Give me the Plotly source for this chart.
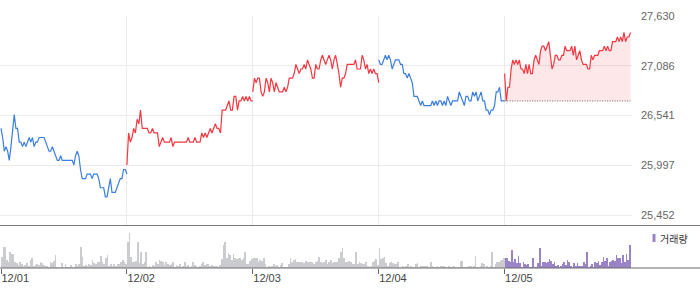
import plotly.graph_objects as go

# ---------------- data ----------------
day_labels = ["12/01", "12/02", "12/03", "12/04", "12/05"]

price_d1 = [26400, 26300, 26150, 26200, 26150, 26050, 26200, 26350, 26550, 26400, 26400, 26250, 26250, 26200,
            26250, 26200, 26250, 26300, 26250, 26300, 26200, 26250, 26250, 26300, 26300, 26300, 26300, 26250,
            26200, 26150, 26150, 26200, 26150, 26100, 26050, 26050, 26100, 26050, 26050, 26050, 26050, 26050,
            26050, 26050, 26000, 26100, 26150, 26100, 25950, 25850, 25850, 25850, 25900, 25900, 25900, 25850,
            25900, 25900, 25900, 25850, 25750, 25750, 25750, 25650, 25650, 25750, 25850, 25700, 25700, 25700,
            25750, 25800, 25850, 25850, 25950, 25950, 25900]
price_d2 = [26000, 26350, 26250, 26300, 26400, 26350, 26500, 26450, 26600, 26400, 26400, 26400, 26400, 26350,
            26350, 26400, 26350, 26350, 26350, 26200, 26250, 26300, 26250, 26250, 26250, 26250, 26300, 26200,
            26250, 26250, 26250, 26250, 26250, 26250, 26250, 26250, 26300, 26250, 26250, 26250, 26300, 26250,
            26250, 26250, 26350, 26300, 26350, 26300, 26350, 26400, 26350, 26400, 26450, 26400, 26400, 26350,
            26600, 26600, 26600, 26650, 26700, 26600, 26600, 26750, 26750, 26600, 26700, 26700, 26750, 26700,
            26750, 26700, 26750, 26700, 26700]
price_d3 = [26800, 26950, 26900, 26950, 26950, 26800, 26750, 26800, 26950, 26900, 26800, 26950, 26900, 26800,
            26900, 26850, 26800, 26800, 26800, 26850, 26800, 26850, 26950, 26950, 26950, 27000, 27100, 27050,
            27000, 27050, 27050, 27100, 27050, 27150, 27100, 27050, 26950, 26950, 27100, 27050, 27050, 27150,
            27200, 27150, 27100, 27150, 27200, 27150, 27050, 27150, 27200, 27100, 27000, 26850, 26950, 26950,
            27000, 27100, 27100, 27100, 27100, 27100, 27150, 27050, 27050, 27050, 27200, 27150, 27050, 27100,
            27000, 27050, 27000, 27050, 27000, 27000, 26900]
price_d4 = [27150, 27100, 27100, 27150, 27200, 27150, 27200, 27150, 27050, 27100, 27150, 27150, 27150, 27100,
            27100, 27000, 27000, 26950, 27000, 26950, 26900, 26750, 26750, 26750, 26700, 26650, 26700, 26650,
            26650, 26650, 26650, 26650, 26700, 26650, 26700, 26650, 26700, 26700, 26650, 26700, 26650, 26750,
            26700, 26650, 26700, 26700, 26700, 26700, 26800, 26750, 26700, 26650, 26750, 26750, 26700, 26700,
            26800, 26750, 26800, 26700, 26750, 26800, 26700, 26700, 26600, 26600, 26550, 26600, 26600, 26650,
            26800, 26800, 26850, 26700, 26700, 26700]
price_d5 = [27000, 26700, 26850, 26850, 27050, 27150, 27100, 27150, 27100, 27150, 27050, 27050, 27000, 27100,
            27000, 27100, 27000, 27000, 27150, 27200, 27150, 27100, 27250, 27300, 27300, 27250, 27300, 27350,
            27200, 27050, 27100, 27200, 27200, 27150, 27150, 27200, 27200, 27300, 27250, 27250, 27250, 27300,
            27200, 27300, 27150, 27200, 27250, 27150, 27100, 27100, 27100, 27050, 27050, 27200, 27150, 27200,
            27200, 27200, 27250, 27250, 27250, 27300, 27250, 27300, 27250, 27250, 27350, 27350, 27350, 27400,
            27350, 27400, 27350, 27450, 27350, 27400, 27400, 27450]

vol_d1 = [36, 64, 64, 26, 21, 49, 43, 43, 21, 16, 11, 21, 13, 9, 11, 16, 9, 26, 31, 9, 11, 13, 11, 21, 16, 11, 9,
          9, 6, 21, 16, 23, 41, 6, 3, 1, 16, 3, 13, 3, 3, 11, 3, 6, 13, 9, 13, 66, 36, 9, 11, 9, 13, 11, 26, 16,
          13, 21, 21, 39, 21, 13, 31, 41, 9, 13, 9, 13, 9, 13, 13, 19, 26, 19, 13]
vol_d2 = [81, 109, 36, 19, 21, 23, 81, 16, 51, 13, 21, 49, 6, 9, 3, 11, 9, 21, 13, 26, 23, 21, 11, 19, 13, 11, 13,
          19, 6, 11, 9, 13, 6, 9, 19, 9, 11, 6, 9, 19, 11, 9, 6, 9, 13, 19, 11, 13, 13, 9, 11, 9, 9, 9, 6, 11, 29,
          71, 79, 31, 46, 41, 26, 43, 33, 29, 31, 33, 26, 31, 51, 13, 13, 23, 29]
vol_d3 = [31, 31, 31, 21, 26, 23, 33, 13, 6, 9, 6, 9, 13, 9, 11, 6, 11, 16, 6, 6, 6, 13, 33, 19, 26, 29, 19, 21,
          19, 19, 17, 23, 21, 21, 19, 21, 13, 21, 23, 36, 21, 16, 21, 26, 13, 19, 26, 16, 21, 19, 21, 33, 51, 61,
          33, 19, 19, 23, 21, 13, 13, 51, 13, 21, 16, 13, 13, 19, 9, 6, 9, 19, 23, 29, 11]
vol_d4 = [63, 29, 31, 36, 16, 9, 16, 21, 16, 13, 13, 21, 3, 6, 9, 6, 9, 13, 6, 9, 6, 6, 13, 16, 6, 9, 9, 9, 9, 9,
          6, 19, 9, 6, 6, 9, 6, 9, 9, 9, 6, 6, 9, 6, 6, 9, 6, 6, 6, 24, 23, 6, 6, 6, 9, 9, 6, 9, 39, 6, 6, 9, 16,
          13, 6, 9, 6, 9, 49, 6, 13, 19, 19, 23, 26, 33]
vol_d5 = [33, 33, 23, 21, 56, 21, 29, 16, 39, 16, 6, 21, 13, 11, 13, 6, 3, 33, 3, 6, 16, 63, 9, 19, 19, 16, 21,
          29, 23, 13, 19, 9, 11, 6, 9, 13, 21, 11, 26, 21, 9, 3, 16, 9, 16, 9, 9, 9, 21, 13, 51, 6, 9, 13, 6, 21,
          16, 23, 11, 19, 36, 23, 31, 9, 21, 23, 26, 24, 41, 33, 31, 16, 41, 19, 43, 26, 71]

y_ticks = [25452, 25997, 26541, 27086, 27630]

price_days = [price_d1, price_d2, price_d3, price_d4, price_d5]
vol_days = [vol_d1, vol_d2, vol_d3, vol_d4, vol_d5]

# ---------------- styles ----------------
RED = "#f3363f"
BLUE = "#3a7ee0"
line_colors = [BLUE, RED, RED, BLUE, RED]
GRAY_BAR = "#cbccd0"
PURPLE = "#9a84c7"
bar_colors = [GRAY_BAR, GRAY_BAR, GRAY_BAR, GRAY_BAR, PURPLE]

fig = go.Figure()

for d, vals in enumerate(price_days):
    n = len(vals)
    xs = [d + i / (n - 1) for i in range(n)]
    if d == len(price_days) - 1:
        base = price_days[d - 1][-1]
        fig.add_trace(go.Scatter(x=xs, y=[base] * n, mode="lines",
                                 line=dict(color="#666666", width=1, dash="1px,1.5px"),
                                 hoverinfo="skip", showlegend=False))
        fig.add_trace(go.Scatter(x=xs, y=vals, mode="lines", fill="tonexty",
                                 fillcolor="rgba(246,70,80,0.13)",
                                 line=dict(color=line_colors[d], width=1.2),
                                 hoverinfo="skip", showlegend=False))
    else:
        fig.add_trace(go.Scatter(x=xs, y=vals, mode="lines",
                                 line=dict(color=line_colors[d], width=1.2),
                                 hoverinfo="skip", showlegend=False))

for d, vols in enumerate(vol_days):
    n = len(vols)
    xs = [d + (i + 0.5) / n for i in range(n)]
    fig.add_trace(go.Bar(x=xs, y=vols, width=0.0058, marker=dict(color=bar_colors[d], line=dict(width=0)),
                         xaxis="x2", yaxis="y2", hoverinfo="skip", showlegend=False))

W, H = 700, 289
ml, mr, mt, mb = 0, 68, 16, 21
pw = W - ml - mr
ph = H - mt - mb
price_bottom_px = 225.5
price_dom0 = (H - mb - price_bottom_px) / ph
vol_dom1 = (H - mb - 226.5) / ph
px_per_day = 125.9
x0 = -1 / px_per_day
xrange = [x0, x0 + pw / px_per_day]

fig.update_layout(
    width=W, height=H,
    margin=dict(l=ml, r=mr, t=mt, b=mb),
    paper_bgcolor="white", plot_bgcolor="white",
    font=dict(family="Liberation Sans, Arial, sans-serif", size=11, color="#666"),
    showlegend=False,
    bargap=0,
    xaxis=dict(range=xrange, tickvals=[1, 2, 3, 4], showticklabels=False, ticks="",
               showgrid=True, gridcolor="#ebebeb", gridwidth=1, zeroline=False, showline=False,
               anchor="y", fixedrange=True),
    yaxis=dict(domain=[price_dom0, 1], range=[27630 - (price_bottom_px - 16) * (27630 - 25452) / 199, 27630],
               side="right", tickvals=y_ticks, tickformat=",d", showgrid=True, gridcolor="#ebebeb",
               gridwidth=1, zeroline=False, showline=False, ticks="", ticklabelstandoff=8,
               tickfont=dict(size=11, color="#666"), anchor="x", fixedrange=True),
    xaxis2=dict(range=xrange, tickvals=list(range(len(day_labels))), ticktext=day_labels,
                ticks="outside", ticklen=5, tickcolor="#666", tickwidth=1,
                ticklabelposition="outside right",
                showgrid=False, zeroline=False, showline=False, anchor="y2",
                tickfont=dict(size=11, color="#444"), fixedrange=True),
    yaxis2=dict(domain=[0, vol_dom1], range=[0, 126], showticklabels=False, showgrid=False,
                zeroline=False, showline=False, ticks="", anchor="x2", fixedrange=True),
)

# full-width frame lines
xfull = W / pw
fig.add_shape(type="line", xref="paper", yref="paper", x0=0, x1=xfull, y0=price_dom0, y1=price_dom0,
              line=dict(color="#7a7a7a", width=1))
fig.add_shape(type="line", xref="paper", yref="paper", x0=0, x1=xfull, y0=0, y1=0,
              line=dict(color="#6a6a6a", width=1))

# legend for volume
fig.add_shape(type="rect", xref="paper", yref="paper",
              x0=652.5 / pw, x1=655.5 / pw, y0=(H - mb - 242) / ph, y1=(H - mb - 234) / ph,
              fillcolor=PURPLE, line=dict(width=0))
fig.add_annotation(xref="paper", yref="paper", x=657.5 / pw, y=(H - mb - 238) / ph,
                   text="거래량", showarrow=False, xanchor="left", yanchor="middle",
                   font=dict(family="Noto Sans CJK KR", size=10, color="#333"))

fig.write_html("out.html")
